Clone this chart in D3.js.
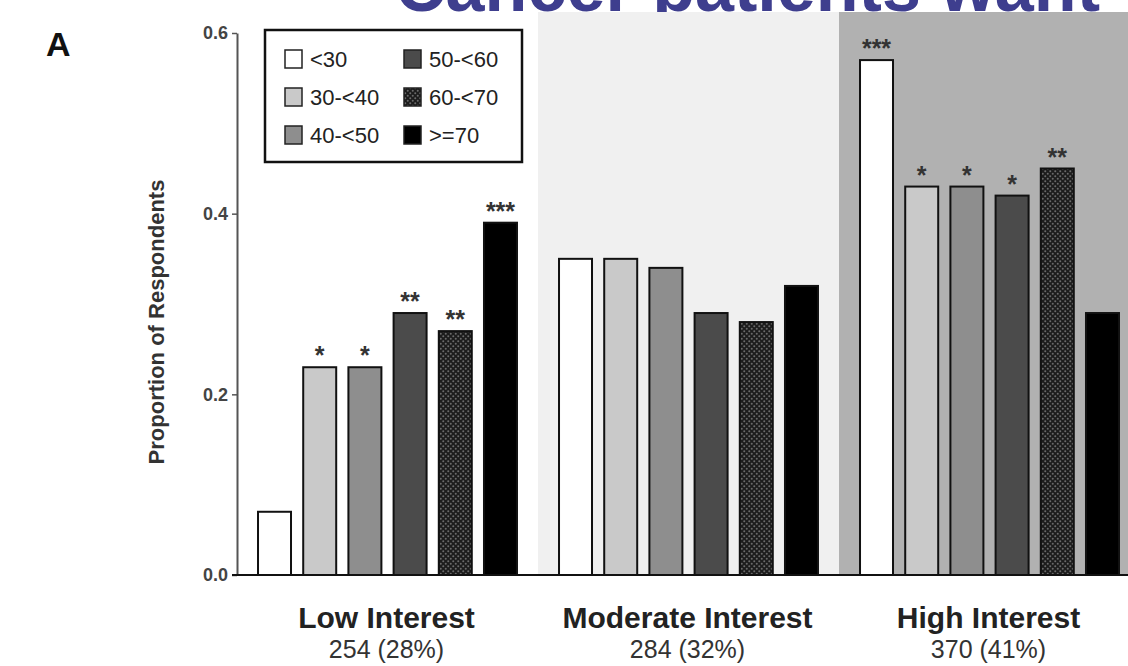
<!DOCTYPE html>
<html>
<head>
<meta charset="utf-8">
<script src="https://cdn.jsdelivr.net/npm/d3@7"></script>
<style>
  body { margin: 0; background: #fff; }
  text { font-family: "Liberation Sans", Arial, sans-serif; }
</style>
</head>
<body>
<svg id="chart"></svg>
<script>
var groups = ["Low Interest", "Moderate Interest", "High Interest"];
var groupCounts = ["254 (28%)", "284 (32%)", "370 (41%)"];
var ages = ["<30", "30-<40", "40-<50", "50-<60", "60-<70", ">=70"];
var lowValues = [0.07, 0.23, 0.23, 0.29, 0.27, 0.39];
var moderateValues = [0.35, 0.35, 0.34, 0.29, 0.28, 0.32];
var highValues = [0.57, 0.43, 0.43, 0.42, 0.45, 0.29];
var lowStars = ["", "*", "*", "**", "**", "***"];
var moderateStars = ["", "", "", "", "", ""];
var highStars = ["***", "*", "*", "*", "**", ""];
var yTicks = [0, 0.2, 0.4, 0.6];

var screen = { width: 1128, height: 666 };
var margins = { top: 33, left: 237, bottom: 91 };
var svg = d3.select("#chart").attr("width", screen.width).attr("height", screen.height);

var defs = svg.append("defs");
var pat = defs.append("pattern").attr("id", "dots")
  .attr("patternUnits", "userSpaceOnUse").attr("width", 5).attr("height", 5);
pat.append("rect").attr("width", 5).attr("height", 5).attr("fill", "#1c1c1c");
pat.append("circle").attr("cx", 1.25).attr("cy", 1.25).attr("r", 1).attr("fill", "#6a6a6a");
pat.append("circle").attr("cx", 3.75).attr("cy", 3.75).attr("r", 1).attr("fill", "#6a6a6a");
//title is cut by the panel top in the picture
defs.append("clipPath").attr("id", "titleClip")
  .append("rect").attr("x", 0).attr("y", 0).attr("width", screen.width).attr("height", 12);

var fills = ["#ffffff", "#c9c9c9", "#8e8e8e", "#4b4b4b", "url(#dots)", "#000000"];
var panelFills = ["#ffffff", "#f0f0f0", "#b1b1b1"];

var series = [lowValues, moderateValues, highValues];
var stars = [lowStars, moderateStars, highStars];
var data = groups.map(function (g, i) {
  return { group: g, count: groupCounts[i], bars: ages.map(function (a, j) {
    return { age: a, value: series[i][j], star: stars[i][j] };
  }) };
});

var baseY = screen.height - margins.bottom;
var xGroup = d3.scaleBand().domain(groups).range([margins.left, margins.left + 3 * 301]);
var xAge = d3.scaleBand().domain(ages).range([0, xGroup.bandwidth()])
  .paddingInner(0.27).paddingOuter(0.465);
var yScale = d3.scaleLinear().domain([0, 0.6]).range([baseY, margins.top]);
var color = d3.scaleOrdinal().domain(ages).range(fills);

// title
svg.append("text")
  .attr("clip-path", "url(#titleClip)")
  .attr("x", 395).attr("y", 11)
  .attr("textLength", 705).attr("lengthAdjust", "spacingAndGlyphs")
  .attr("font-family", "DejaVu Sans, sans-serif")
  .attr("font-size", 72).attr("font-weight", "bold").attr("fill", "#3e3e8e")
  .text("Cancer patients want");

// panels
svg.selectAll(".panel").data(groups).enter().append("rect")
  .attr("x", function (g) { return xGroup(g); })
  .attr("y", 12)
  .attr("width", xGroup.bandwidth())
  .attr("height", baseY - 12)
  .attr("fill", function (g, i) { return panelFills[i]; });

// bars
var gg = svg.selectAll(".grp").data(data).enter().append("g")
  .attr("transform", function (d) { return "translate(" + xGroup(d.group) + ",0)"; });

gg.selectAll("rect").data(function (d) { return d.bars; }).enter().append("rect")
  .attr("x", function (b) { return xAge(b.age); })
  .attr("y", function (b) { return yScale(b.value); })
  .attr("width", xAge.bandwidth())
  .attr("height", function (b) { return baseY - yScale(b.value); })
  .attr("fill", function (b) { return color(b.age); })
  .attr("stroke", "#111").attr("stroke-width", 2);

gg.selectAll(".star").data(function (d) { return d.bars; }).enter().append("text")
  .attr("x", function (b) { return xAge(b.age) + xAge.bandwidth() / 2; })
  .attr("y", function (b) { return yScale(b.value) - 3; })
  .attr("text-anchor", "middle")
  .attr("font-size", 25).attr("font-weight", "bold").attr("fill", "#333")
  .text(function (b) { return b.star; });

// axes
var yAxis = d3.axisLeft(yScale).tickValues(yTicks).tickFormat(d3.format(".1f"))
  .tickSize(5).tickSizeOuter(0);
var ya = svg.append("g").attr("transform", "translate(" + margins.left + ",0)").call(yAxis);
ya.select(".domain").attr("stroke", "#555").attr("stroke-width", 2);
ya.selectAll(".tick line").attr("stroke", "#555").attr("stroke-width", 1.5);
ya.selectAll(".tick text")
  .style("font-size", "18px").attr("font-weight", "bold").attr("fill", "#444")
  .attr("x", -9);

svg.append("line")
  .attr("x1", margins.left - 5).attr("x2", screen.width)
  .attr("y1", baseY).attr("y2", baseY)
  .attr("stroke", "#111").attr("stroke-width", 2);

// group labels
var lab = svg.selectAll(".lab").data(data).enter().append("g")
  .attr("transform", function (d) { return "translate(" + (xGroup(d.group) + xGroup.bandwidth() / 2 - 1) + ",0)"; });
lab.append("text").attr("y", 628).attr("text-anchor", "middle")
  .attr("font-size", 30).attr("font-weight", "bold").attr("fill", "#222")
  .text(function (d) { return d.group; });
lab.append("text").attr("y", 658).attr("text-anchor", "middle")
  .attr("font-size", 25).attr("fill", "#333")
  .text(function (d) { return d.count; });

// y title
svg.append("g").attr("transform", "translate(164,322)")
  .append("text").attr("transform", "rotate(-90)")
  .attr("text-anchor", "middle")
  .attr("font-size", 22).attr("font-weight", "bold").attr("fill", "#333")
  .text("Proportion of Respondents");

// panel letter
svg.append("text").attr("x", 46).attr("y", 56)
  .attr("font-size", 34).attr("font-weight", "bold").attr("fill", "#111")
  .text("A");

// legend
var legend = svg.append("g");
legend.append("rect").attr("x", 265).attr("y", 30).attr("width", 257).attr("height", 132)
  .attr("fill", "#fff").attr("stroke", "#111").attr("stroke-width", 2.5);
var li = legend.selectAll(".li").data(ages).enter().append("g")
  .attr("transform", function (a, i) {
    return "translate(" + (i < 3 ? 285 : 404) + "," + (59 + (i % 3) * 38) + ")";
  });
li.append("rect").attr("x", 0).attr("y", -9).attr("width", 17).attr("height", 18)
  .attr("fill", function (a) { return color(a); })
  .attr("stroke", "#222").attr("stroke-width", 1.5);
li.append("text").attr("x", 25).attr("y", 8)
  .attr("font-size", 22).attr("fill", "#222")
  .text(function (a) { return a; });
</script>
</body>
</html>
